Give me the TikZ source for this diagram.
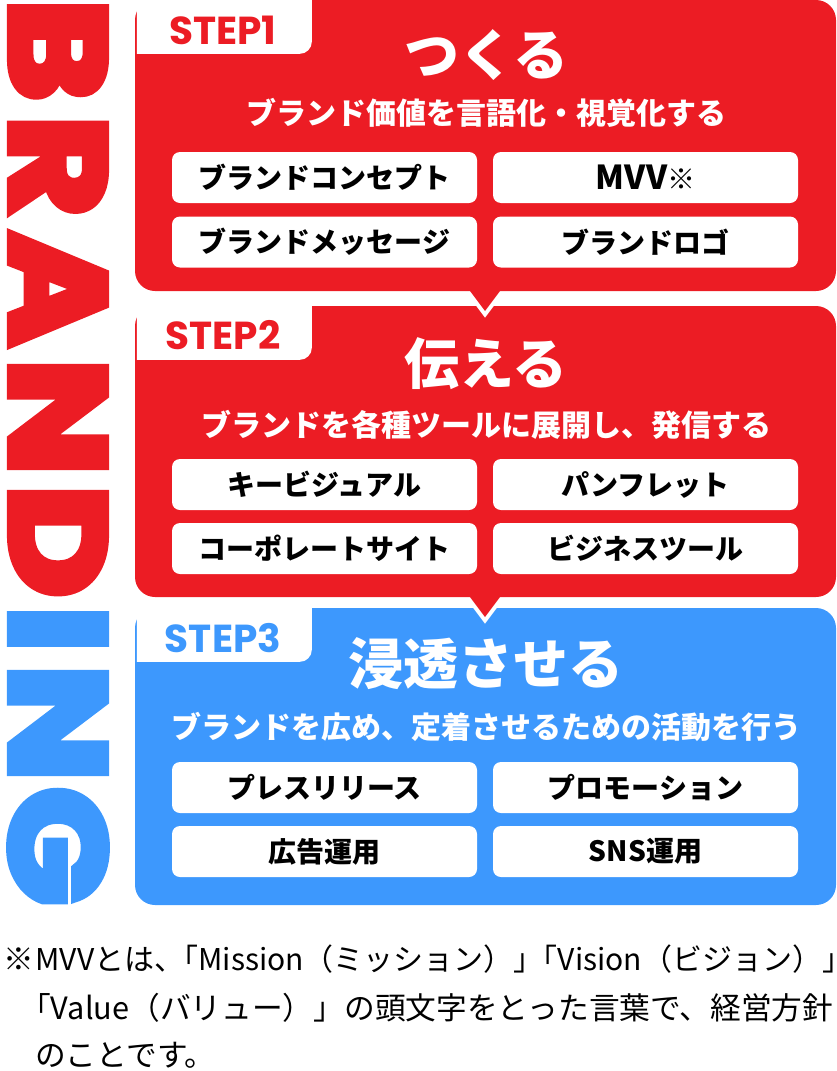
\documentclass[tikz,border=0pt]{standalone}
\usepackage{fontspec}
\setmainfont{Noto Sans CJK JP}
\newfontfamily\brandfont{Poppins}[FakeBold=6]
\newfontfamily\stepfont{Poppins}
\usepackage{tikz}
\usetikzlibrary{positioning}
\definecolor{brandred}{HTML}{EC1C24}
\definecolor{brandblue}{HTML}{3D98FD}

\begin{document}
\begin{tikzpicture}[x=1pt, y=-1pt,
    stepbox/.style={rounded corners=20pt, minimum width=701pt, inner sep=0pt},
    steplabel/.style={inner sep=0pt, font=\fontsize{39}{39}\stepfont\bfseries},
    title/.style={inner sep=0pt, text=white, font=\fontsize{55}{55}\selectfont\bfseries},
    subtitle/.style={inner sep=0pt, text=white, font=\fontsize{30}{30}\selectfont\bfseries},
    itembox/.style={fill=white, rounded corners=8pt, minimum width=305pt, minimum height=51pt,
        inner sep=0pt, text=black, font=\fontsize{28}{28}\selectfont\bfseries},
    pointer/.style={draw=white, line width=8pt, line join=miter},
    letter/.style={rotate=-90, xscale=1.15, inner sep=0pt, font=\fontsize{134}{134}\brandfont\bfseries},
    note/.style={anchor=west, inner sep=0pt, text=black, font=\fontsize{30.7}{30.7}\selectfont}
  ]
    \useasboundingbox (0,0) rectangle (836,1071);

    % BRANDING down the left side
    \foreach \ch/\yc/\col [count=\i] in {B/50/brandred, R/166/brandred, A/289/brandred,
        N/417/brandred, D/541/brandred, I/629/brandblue, N/723/brandblue, G/846/brandblue}
      \node[letter, text=\col] (letter\i) at (58,\yc) {\ch};

    % Boxes, bottom one first so each pointer lies over the next box
    \node[stepbox, fill=brandblue, minimum height=297pt] (box3) at (485.5,756.5) {};
    \draw[pointer] (462.5,587) -- (507.5,587) -- (485,617) -- cycle;
    \fill[brandred] (462.5,587) -- (507.5,587) -- (485,617) -- cycle;
    \node[stepbox, fill=brandred, minimum height=291pt] (box2) at (485.5,451.5) {};
    \draw[pointer] (462.5,281) -- (507.5,281) -- (485,311) -- cycle;
    \fill[brandred] (462.5,281) -- (507.5,281) -- (485,311) -- cycle;
    \node[stepbox, fill=brandred, minimum height=291pt] (box1) at (485.5,145.5) {};

    % STEP tabs
    \foreach \b in {1,2,3}
      \fill[white] ([xshift=2pt]box\b.north west) -- ++(175,0) -- ++(0,42)
        arc[start angle=0, end angle=90, radius=12] -- ([xshift=2pt,yshift=-54pt]box\b.north west) -- cycle;
    \node[steplabel, text=brandred] (step1) at (223,30) {STEP1};
    \node[steplabel, text=brandred] (step2) at (223,335) {STEP2};
    \node[steplabel, text=brandblue] (step3) at (223,638) {STEP3};

    % Titles
    \node[title] (title1) at (486,55) {つくる};
    \node[subtitle] (sub1) at (486,113) {ブランド価値を言語化・視覚化する};
    \node[title] (title2) at (486,364) {伝える};
    \node[subtitle] (sub2) at (486,425) {ブランドを各種ツールに展開し、発信する};
    \node[title] (title3) at (486,664) {浸透させる};
    \node[subtitle] (sub3) at (486,727) {ブランドを広め、定着させるための活動を行う};

    % Items
    \foreach \txt/\xc/\yc [count=\i] in {
        ブランドコンセプト/324.5/177.5, {{\fontsize{33}{33}\selectfont MVV}※}/645.5/177.5,
        ブランドメッセージ/324.5/242, ブランドロゴ/645.5/242,
        キービジュアル/324.5/484.5, パンフレット/645.5/484.5,
        コーポレートサイト/324.5/548.5, ビジネスツール/645.5/548.5,
        プレスリリース/324.5/787.5, プロモーション/645.5/787.5,
        広告運用/324.5/851.5, SNS運用/645.5/851.5}
      \node[itembox] (item\i) at (\xc,\yc) {\txt};

    % Footnote
    \node[note] (mark) at (3,959) {※};
    \node[note, font=\fontsize{30}{30}\selectfont] (note1) at (35,959)
      {MVVとは、\kern-16pt「Mission（ミッション）」\kern-16pt「Vision（ビジョン）」};
    \node[note] (note2) at (20,1008) {「Value（バリュー）」の頭文字をとった言葉で、経営方針};
    \node[note] (note3) at (35,1055) {のことです。};
\end{tikzpicture}
\end{document}
